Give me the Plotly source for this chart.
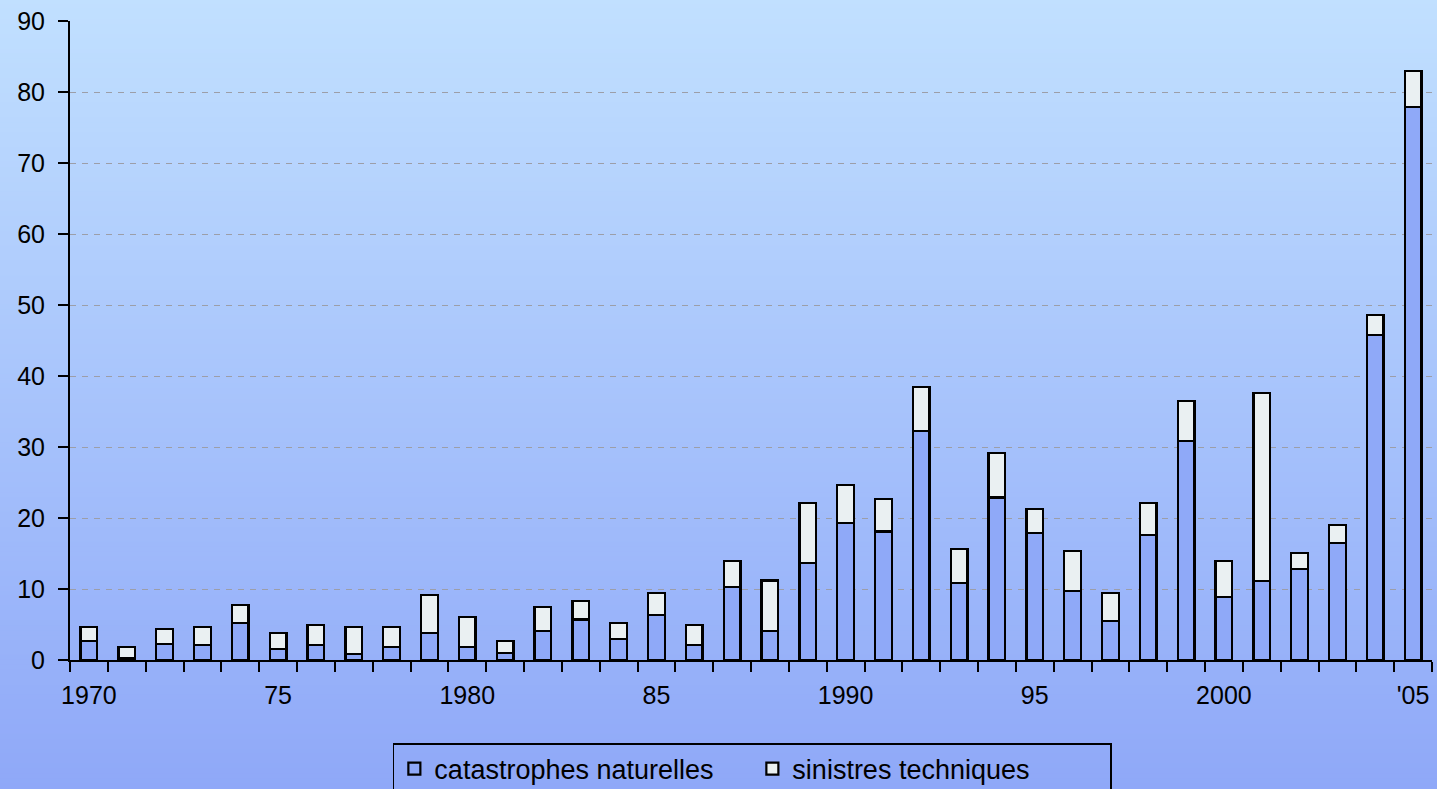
import plotly.graph_objects as go

years = [str(y) for y in range(1970, 2006)]
tick_text = ["1970", "", "", "", "", "75", "", "", "", "", "1980", "", "", "", "", "85",
             "", "", "", "", "1990", "", "", "", "", "95", "", "", "", "", "2000",
             "", "", "", "", "'05"]

naturelles = [2.7, 0.3, 2.3, 2.1, 5.2, 1.5, 2.1, 0.9, 1.8, 3.8, 1.8, 1.0, 4.1, 5.7, 3.0, 6.3,
              2.1, 10.3, 4.1, 13.7, 19.3, 18.1, 32.3, 10.8, 22.9, 17.9, 9.7, 5.5, 17.6, 30.8,
              8.9, 11.1, 12.8, 16.5, 45.8, 77.9]
totals = [4.7, 1.8, 4.4, 4.7, 7.8, 3.8, 4.9, 4.7, 4.7, 9.2, 6.1, 2.7, 7.5, 8.3, 5.2, 9.4,
          4.9, 13.9, 11.2, 22.1, 24.6, 22.7, 38.4, 15.6, 29.1, 21.3, 15.4, 9.4, 22.1, 36.5,
          13.9, 37.6, 15.1, 19.0, 48.6, 83.0]
techniques = [round(t - n, 2) for t, n in zip(totals, naturelles)]

fig = go.Figure()
fig.add_trace(go.Bar(x=years, y=naturelles, name="catastrophes naturelles",
                     marker=dict(color="#8fa9f8", line=dict(color="black", width=2.2))))
fig.add_trace(go.Bar(x=years, y=techniques, name="sinistres techniques",
                     marker=dict(color="#eaf0f2", line=dict(color="black", width=2.2))))

# background gradient bands
W, H = 1437, 789
ml, mr, mt, mb = 70, 5, 21, 129
pw, ph = W - ml - mr, H - mt - mb
top = (193, 224, 255)
bot = (143, 168, 248)
shapes = []
n = 160
for i in range(n):
    y0px = H * i / n - 1
    y1px = H * (i + 1) / n + 1
    f = (i + 0.5) / n
    c = tuple(round(top[k] + (bot[k] - top[k]) * f) for k in range(3))
    shapes.append(dict(type="rect", xref="paper", yref="paper", layer="below",
                       x0=-ml / pw - 0.01, x1=1 + mr / pw + 0.01,
                       y0=1 - (y1px - mt) / ph, y1=1 - (y0px - mt) / ph,
                       fillcolor="rgb(%d,%d,%d)" % c, line=dict(width=0)))

fig.update_layout(
    width=W, height=H,
    barmode="stack", bargap=0.56,
    margin=dict(l=ml, r=mr, t=mt, b=mb, autoexpand=False),
    paper_bgcolor="rgb(143,168,248)", plot_bgcolor="rgba(0,0,0,0)",
    shapes=shapes,
    font=dict(family="Liberation Sans, Arial", size=25, color="black"),
    showlegend=True,
    legend=dict(orientation="h", x=0.501, xanchor="center", y=-0.13, yanchor="top",
                bordercolor="black", borderwidth=1.5, bgcolor="rgba(0,0,0,0)",
                font=dict(size=27), traceorder="normal", entrywidth=313),
    xaxis=dict(type="category", tickmode="array", tickvals=years, ticktext=tick_text,
               tickangle=0, ticks="outside", tickson="boundaries", ticklen=10,
               tickwidth=2, tickcolor="black", showline=True, linecolor="black",
               linewidth=2, showgrid=False, ticklabelstandoff=12),
    yaxis=dict(range=[0, 90], dtick=10, ticks="outside", ticklen=10, tickwidth=2,
               tickcolor="black", showline=True, linecolor="black", linewidth=2,
               showgrid=True, gridcolor="#9c9ea8", griddash="6px,6px", gridwidth=1.2,
               zeroline=False, ticklabelstandoff=8),
)

fig.write_html("out.html", config={"displayModeBar": False},
               post_script="document.body.style.margin='0';document.body.style.overflow='hidden';")
